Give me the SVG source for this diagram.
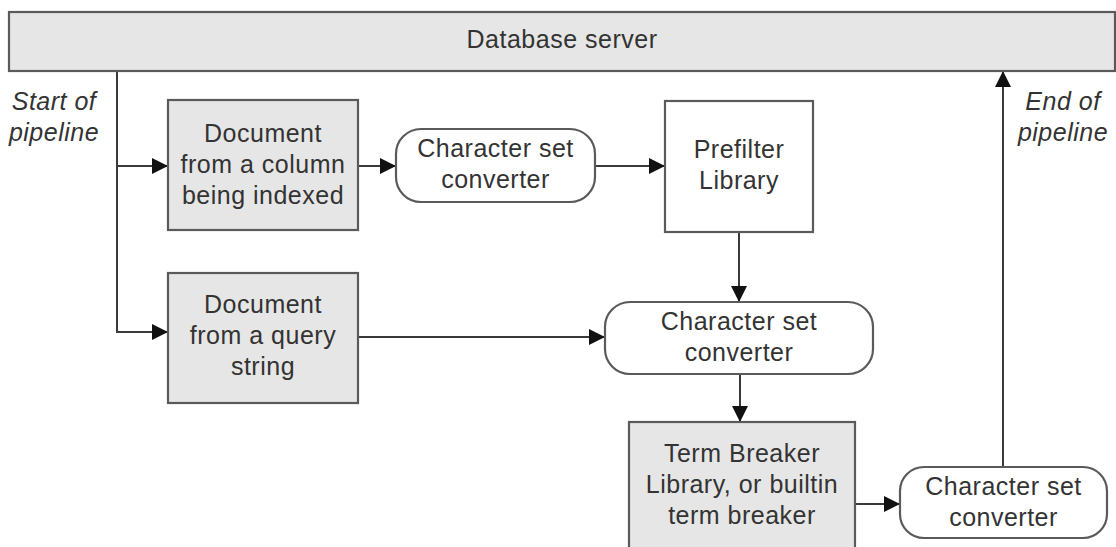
<svg xmlns="http://www.w3.org/2000/svg" width="1116" height="547" viewBox="0 0 1116 547">
<defs>
<style>
.box{fill:#e6e6e6;stroke:#5a5a5a;stroke-width:2.2}
.wbox{fill:#ffffff;stroke:#5a5a5a;stroke-width:2.2}
.t{font-family:"Liberation Sans",Arial,sans-serif;font-size:25px;letter-spacing:0.5px;fill:#333333;text-anchor:middle}
.it{font-style:italic}
.c{fill:none;stroke:#3a3a3a;stroke-width:2}
</style>
<marker id="ah" viewBox="0 0 16 16" refX="16" refY="8" markerWidth="16" markerHeight="16" markerUnits="userSpaceOnUse" orient="auto">
<path d="M0,0 L16,8 L0,16 Z" fill="#111"/>
</marker>
</defs>
<rect width="1116" height="547" fill="#ffffff"/>
<g id="connectors">
<path class="c" d="M117,71 V332 H168" marker-end="url(#ah)"/>
<path class="c" d="M117,166 H168" marker-end="url(#ah)"/>
<path class="c" d="M358,166 H396" marker-end="url(#ah)"/>
<path class="c" d="M595,166 H665" marker-end="url(#ah)"/>
<path class="c" d="M739,232 V302" marker-end="url(#ah)"/>
<path class="c" d="M358,337 H605" marker-end="url(#ah)"/>
<path class="c" d="M740,374 V422" marker-end="url(#ah)"/>
<path class="c" d="M855,504 H900" marker-end="url(#ah)"/>
<path class="c" d="M1003,467 V71" marker-end="url(#ah)"/>
</g>
<g id="db-server">
<rect class="box" x="9" y="12" width="1106" height="59" stroke-width="2.6" stroke="#6a6a6a"/>
<text class="t" x="562" y="48">Database server</text>
</g>
<g id="label-start">
<text class="t it" x="54" y="110">Start of</text>
<text class="t it" x="54" y="141">pipeline</text>
</g>
<g id="label-end">
<text class="t it" x="1063" y="110">End of</text>
<text class="t it" x="1063" y="141">pipeline</text>
</g>
<g id="doc-column">
<rect class="box" x="168" y="100" width="190" height="130"/>
<text class="t" x="263" y="142">Document</text>
<text class="t" x="263" y="173">from a column</text>
<text class="t" x="263" y="204">being indexed</text>
</g>
<g id="charset-1">
<rect class="wbox" x="396" y="129" width="199" height="73" rx="25" ry="25"/>
<text class="t" x="495.5" y="157">Character set</text>
<text class="t" x="495.5" y="188">converter</text>
</g>
<g id="prefilter">
<rect class="wbox" x="665" y="101" width="148" height="131"/>
<text class="t" x="739" y="158">Prefilter</text>
<text class="t" x="739" y="189">Library</text>
</g>
<g id="doc-query">
<rect class="box" x="168" y="273" width="190" height="130"/>
<text class="t" x="263" y="313">Document</text>
<text class="t" x="263" y="344">from a query</text>
<text class="t" x="263" y="375">string</text>
</g>
<g id="charset-2">
<rect class="wbox" x="605" y="302" width="268" height="72" rx="25" ry="25"/>
<text class="t" x="739" y="330">Character set</text>
<text class="t" x="739" y="361">converter</text>
</g>
<g id="term-breaker">
<rect class="box" x="629" y="422" width="226" height="140"/>
<text class="t" x="742" y="462">Term Breaker</text>
<text class="t" x="742" y="493">Library, or builtin</text>
<text class="t" x="742" y="524">term breaker</text>
</g>
<g id="charset-3">
<rect class="wbox" x="900" y="467" width="207" height="71" rx="24" ry="24"/>
<text class="t" x="1003.5" y="495">Character set</text>
<text class="t" x="1003.5" y="526">converter</text>
</g>
</svg>
